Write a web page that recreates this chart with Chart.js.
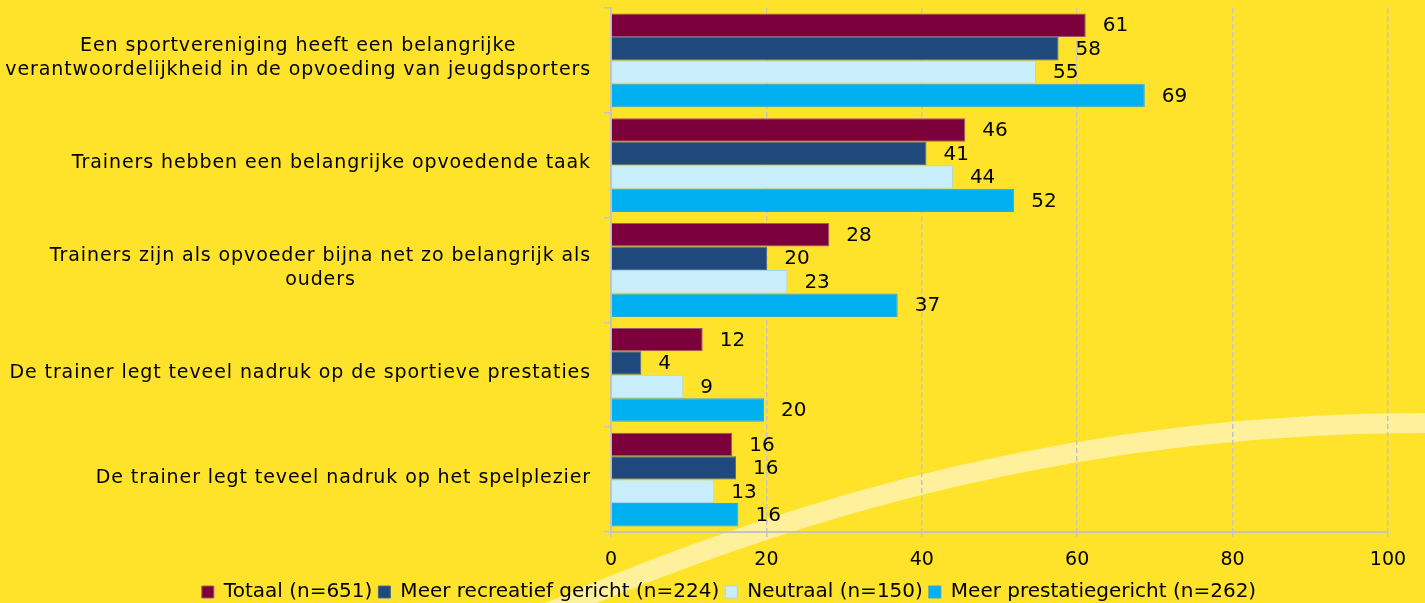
<!DOCTYPE html>
<html><head><meta charset="utf-8">
<script src="https://cdn.jsdelivr.net/npm/chart.js@4.4.0/dist/chart.umd.min.js"></script>
<style>html,body{margin:0;padding:0;background:#FFE32B;overflow:hidden}#wrap{width:1425px;height:603px;position:relative}</style>
</head><body><div id="wrap"><canvas id="c"></canvas></div>
<script>
const categories = [
  ['Een sportvereniging heeft een belangrijke', 'verantwoordelijkheid in de opvoeding van jeugdsporters'],
  ['Trainers hebben een belangrijke opvoedende taak'],
  ['Trainers zijn als opvoeder bijna net zo belangrijk als', 'ouders'],
  ['De trainer legt teveel nadruk op de sportieve prestaties'],
  ['De trainer legt teveel nadruk op het spelplezier']
];
const seriesNames = ['Totaal (n=651)', 'Meer recreatief gericht (n=224)', 'Neutraal (n=150)', 'Meer prestatiegericht (n=262)'];
const totaal = [61.1, 45.6, 28.1, 11.8, 15.6];
const recreatief = [57.6, 40.6, 20.1, 3.9, 16.1];
const neutraal = [54.7, 44.0, 22.7, 9.3, 13.3];
const prestatie = [68.7, 51.9, 36.9, 19.7, 16.4];
const xTicks = [0, 20, 40, 60, 80, 100];

const colors = ['#7B003C', '#1F497D', '#C8EEFC', '#00B0F0'];
const borders = ['#9a5a70', '#4a6a90', '#a8d6e8', '#3aa6d0'];
const FONT = 'DejaVu Sans';

const bgPlugin = {
  id: 'bg',
  beforeDraw(chart) {
    const ctx = chart.ctx;
    ctx.save();
    ctx.fillStyle = '#FFE32B';
    ctx.fillRect(0, 0, chart.width, chart.height);
    ctx.beginPath();
    ctx.moveTo(520, 625);
    ctx.bezierCurveTo(800, 500, 1100, 420, 1440, 423);
    ctx.strokeStyle = '#FFF19B';
    ctx.lineWidth = 20;
    ctx.stroke();
    ctx.restore();
  }
};

const labelPlugin = {
  id: 'labels',
  afterDatasetsDraw(chart) {
    const ctx = chart.ctx;
    ctx.save();
    ctx.fillStyle = '#000';
    ctx.font = '20px "' + FONT + '"';
    ctx.textBaseline = 'middle';
    ctx.textAlign = 'left';
    chart.data.datasets.forEach((ds, di) => {
      const meta = chart.getDatasetMeta(di);
      meta.data.forEach((bar, i) => {
        ctx.fillText(String(Math.round(ds.data[i])), bar.x + 17, bar.y + 1);
      });
    });
    // category labels
    ctx.font = '19px "' + FONT + '"';
    ctx.letterSpacing = '0.9px';
    const ys = chart.scales.y;
    const right = ys.right - 20;
    categories.forEach((lines, i) => {
      const cy = ys.getPixelForValue(i);
      let maxW = 0;
      lines.forEach(l => { maxW = Math.max(maxW, ctx.measureText(l).width); });
      const cx = right - maxW / 2;
      ctx.textAlign = 'center';
      const lh = 24;
      const y0 = cy - 2 - (lines.length - 1) * lh / 2;
      lines.forEach((l, k) => ctx.fillText(l, cx, y0 + k * lh));
    });
    ctx.restore();
  }
};

const mk = (i, data) => ({
  label: seriesNames[i], data,
  backgroundColor: colors[i], borderColor: borders[i], borderWidth: 1,
  barPercentage: 1.0, categoryPercentage: 0.895
});

new Chart(document.getElementById('c'), {
  type: 'bar',
  data: {
    labels: categories,
    datasets: [mk(0, totaal), mk(1, recreatief), mk(2, neutraal), mk(3, prestatie)]
  },
  plugins: [bgPlugin, labelPlugin],
  options: {
    indexAxis: 'y',
    responsive: true,
    maintainAspectRatio: false,
    animation: false,
    layout: { padding: { top: 8, right: 37, left: 70, bottom: -9 } },
    scales: {
      x: {
        min: 0, max: 100,
        afterBuildTicks(s) { s.ticks = xTicks.map(v => ({ value: v })); },
        afterFit(s) { s.height = 44; },
        grid: { color: '#C4C4C4', lineWidth: 1.5, tickLength: 5, tickBorderDash: [], tickColor: '#C4C4C4' },
        border: { color: '#C4C4C4', width: 2, dash: [5, 3] },
        ticks: { color: '#000', font: { family: FONT, size: 19 }, padding: 12 }
      },
      y: {
        afterFit(s) { s.width = 541; },
        grid: { offset: true, drawOnChartArea: false, drawTicks: true, tickLength: 7, color: '#C4C4C4', lineWidth: 1.5 },
        border: { color: '#C4C4C4', width: 2 },
        ticks: { display: false }
      }
    },
    plugins: {
      tooltip: { enabled: false },
      legend: {
        position: 'bottom',
        labels: { color: '#000', font: { family: FONT, size: 20 }, boxWidth: 12, boxHeight: 12, padding: 6 }
      }
    }
  }
});
</script>
</body></html>
